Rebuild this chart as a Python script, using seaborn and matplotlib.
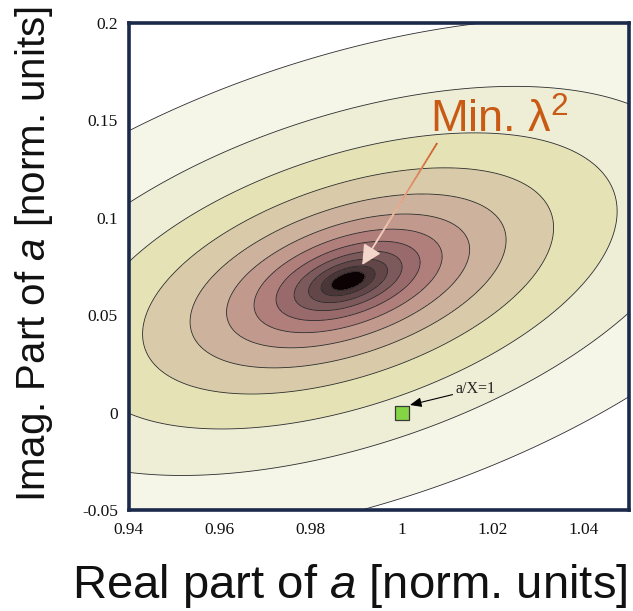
import numpy as np
import pandas as pd
import matplotlib
matplotlib.use("Agg")
import matplotlib.pyplot as plt
from matplotlib.collections import LineCollection
import seaborn as sns

# Fitted minimum of the lambda^2 surface and its curvature
re_min = 0.9882
im_min = 0.0676
sig_re = 0.0100
sig_im = 0.01284
rho = 0.47

# Contour levels of lambda^2 (relative to the minimum)
levels = [0.14, 0.353, 0.755, 1.41, 2.51, 4.28, 7.15, 12.08, 20.44, 35.03, 60.5, 111.0]
band_colors = ["#0c0203", "#4a3537", "#624648", "#7c5a5b", "#986a6b", "#b07e7b",
               "#c29a8d", "#cdb29d", "#d9cba9", "#e5e2b6", "#eeedd6", "#f5f5e8", "#ffffff"]

# Reference point a/X = 1
ref_point = pd.DataFrame({"re": [1.0], "im": [0.0]})

x_ticks = [0.94, 0.96, 0.98, 1.00, 1.02, 1.04]
x_ticklabels = ["0.94", "0.96", "0.98", "1", "1.02", "1.04"]
y_ticks = [-0.05, 0.0, 0.05, 0.10, 0.15, 0.20]
y_ticklabels = ["-0.05", "0", "0.05", "0.1", "0.15", "0.2"]

sns.set_theme(style="white")
plt.rcParams["font.family"] = ["Liberation Sans", "DejaVu Sans"]
plt.rcParams["mathtext.fontset"] = "custom"
plt.rcParams["mathtext.rm"] = "Liberation Sans"
plt.rcParams["mathtext.it"] = "Liberation Sans:italic"

fig = plt.figure(figsize=(6.33, 6.11), dpi=100)
ax = fig.add_axes([129 / 633, 1 - 510 / 611, 500 / 633, 487 / 611])

# lambda^2 surface on a grid
xs = np.linspace(0.94, 1.05, 500)
ys = np.linspace(-0.05, 0.2, 500)
X, Y = np.meshgrid(xs, ys)
u = (X - re_min) / sig_re
v = (Y - im_min) / sig_im
lam2 = (u ** 2 - 2 * rho * u * v + v ** 2) / (1 - rho ** 2)

bounds = [-1.0] + levels + [1e6]
ax.contourf(X, Y, lam2, levels=bounds, colors=band_colors)
ax.contour(X, Y, lam2, levels=levels, colors="#2a2a2a", linewidths=0.6)

# Reference point
sns.scatterplot(data=ref_point, x="re", y="im", marker="s", s=115,
                color="#84d444", edgecolor="#3a3a3a", linewidth=0.9, ax=ax,
                zorder=5, legend=False)
ax.annotate("a/X=1", xy=(1.0018, 0.0039), xytext=(1.0119, 0.0101),
            fontsize=11.5, family="Liberation Serif", color="#222222",
            ha="left", va="baseline",
            arrowprops=dict(arrowstyle="-|>,head_length=0.6,head_width=0.25",
                            color="black", lw=0.8, shrinkA=0, shrinkB=0),
            zorder=6)

# Minimum marker label and arrow
ax.text(1.0062, 0.1435, r"Min. λ$^{2}$", fontsize=32.5, color="#c85a14",
        ha="left", va="baseline", zorder=6)
tail = np.array([1.0078, 0.1384])
head = np.array([0.9913, 0.0758])
ax.annotate("", xy=head, xytext=tail,
            arrowprops=dict(arrowstyle="-|>,head_length=1.0,head_width=0.5",
                            color="#f3d6c9", lw=1.2, shrinkA=0, shrinkB=0),
            zorder=6)
n = 40
t = np.linspace(0, 0.82, n + 1)
pts = tail[None, :] + t[:, None] * (head - tail)[None, :]
segs = np.stack([pts[:-1], pts[1:]], axis=1)
c0 = np.array(matplotlib.colors.to_rgb("#cc5a1e"))
c1 = np.array(matplotlib.colors.to_rgb("#f0cfc2"))
cols = [tuple(c0 + (c1 - c0) * k / (n - 1)) for k in range(n)]
ax.add_collection(LineCollection(segs, colors=cols, linewidths=1.3, zorder=7))

ax.set_xlim(0.94, 1.05)
ax.set_ylim(-0.05, 0.2)
ax.set_xticks(x_ticks)
ax.set_xticklabels(x_ticklabels)
ax.set_yticks(y_ticks)
ax.set_yticklabels(y_ticklabels)
for lab in ax.get_xticklabels() + ax.get_yticklabels():
    lab.set_family("Liberation Serif")
    lab.set_fontsize(12.5)
    lab.set_color("#111111")
ax.tick_params(direction="in", length=4, width=0.6, color="#555555",
               top=True, right=True, bottom=True, left=True)
ax.tick_params(axis="x", pad=9)
ax.tick_params(axis="y", pad=8)
for sp in ax.spines.values():
    sp.set_color("#1b2a4a")
    sp.set_linewidth(2.6)
ax.set_xlabel("")
ax.set_ylabel("")

# Axis titles
fig.text(349.5 / 633, 1 - 598 / 611, r"Real part of $\it{a}$ [norm. units]",
         fontsize=34, color="#111111", ha="center", va="baseline")
fig.text(34 / 633, 1 - 254 / 611, r"Imag. Part of $\it{a}$ [norm. units]",
         fontsize=29, color="#111111", ha="center", va="center", rotation=90)

fig.savefig("out.png", dpi=100)
